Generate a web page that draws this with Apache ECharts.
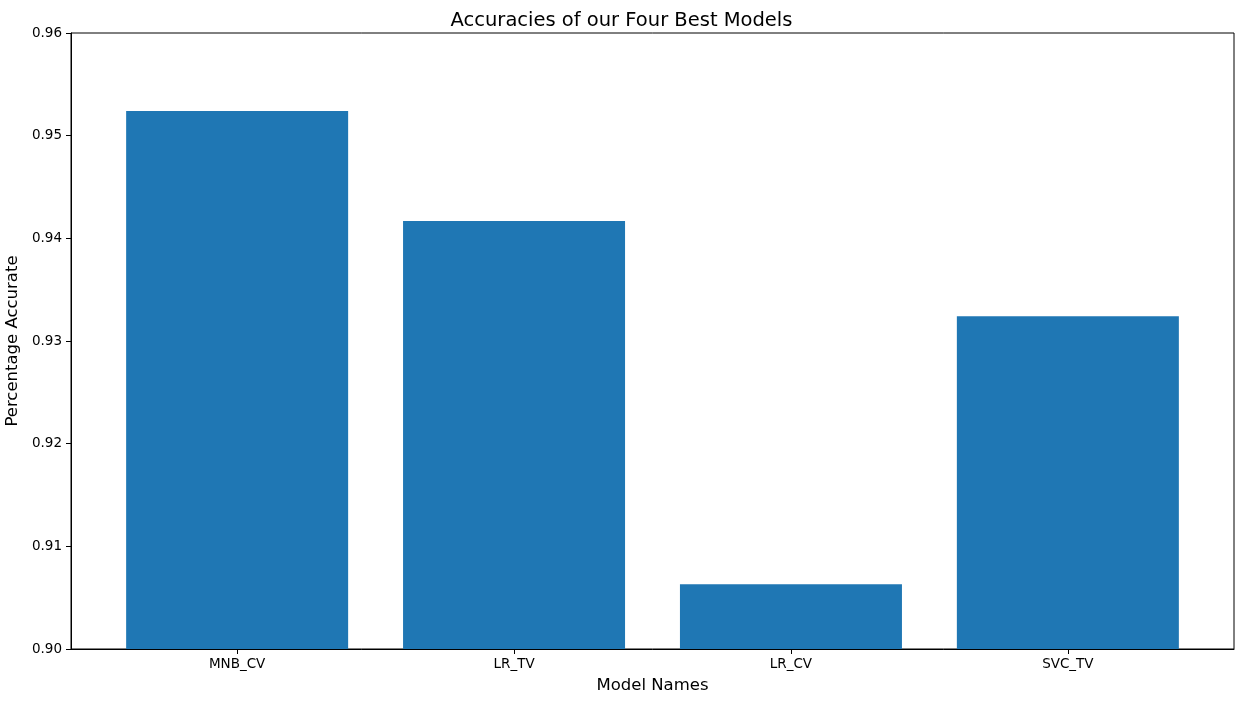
<!DOCTYPE html>
<html>
<head>
<meta charset="utf-8">
<script src="https://cdn.jsdelivr.net/npm/echarts@6/dist/echarts.min.js"></script>
<style>html,body{margin:0;padding:0;background:#fff}#c{width:1243px;height:703px}</style>
</head>
<body>
<div id="c"></div>
<script>
const categories = ['MNB_CV', 'LR_TV', 'LR_CV', 'SVC_TV'];
const accuracies = [0.9524, 0.9417, 0.9063, 0.9324];
const yTicks = [0.90, 0.91, 0.92, 0.93, 0.94, 0.95, 0.96];

const chart = echarts.init(document.getElementById('c'));
const font = 'DejaVu Sans';
chart.setOption({
  animation: false,
  backgroundColor: '#fff',
  title: {
    text: 'Accuracies of our Four Best Models',
    left: 'center', top: 6,
    textStyle: { fontFamily: font, fontSize: 19.5, fontWeight: 'normal', color: '#000' }
  },
  grid: { left: 71, right: 9, top: 33, bottom: 54, show: true, borderColor: '#000', borderWidth: 1,
    backgroundColor: 'transparent', containLabel: false, outerBoundsMode: 'none' },
  xAxis: {
    type: 'value', min: -0.6, max: 3.6,
    name: 'Model Names', nameLocation: 'middle', nameGap: 28,
    nameTextStyle: { fontFamily: font, fontSize: 16.5, color: '#000' },
    axisLine: { show: true, onZero: false, lineStyle: { color: '#000' } },
    axisTick: { show: true, length: 5, customValues: categories.map((_, i) => i), lineStyle: { color: '#000' } },
    axisLabel: { customValues: categories.map((_, i) => i), formatter: v => categories[Math.round(v)] || '',
      fontFamily: font, fontSize: 13.5, color: '#000', margin: 8 },
    splitLine: { show: false }
  },
  yAxis: {
    type: 'value', min: yTicks[0], max: yTicks[yTicks.length - 1], interval: 0.01,
    name: 'Percentage Accurate', nameLocation: 'middle', nameGap: 47, nameRotate: 90,
    nameTextStyle: { fontFamily: font, fontSize: 16.5, color: '#000' },
    axisLine: { show: true, onZero: false, lineStyle: { color: '#000' } },
    axisTick: { show: true, length: 5, lineStyle: { color: '#000' } },
    axisLabel: { formatter: v => v.toFixed(2), fontFamily: font, fontSize: 13.5, color: '#000', margin: 9 },
    splitLine: { show: false }
  },
  series: [{
    type: 'bar',
    data: accuracies.map((v, i) => [i, v]),
    barWidth: 222,
    itemStyle: { color: '#1f77b4' }
  }]
});
</script>
</body>
</html>
